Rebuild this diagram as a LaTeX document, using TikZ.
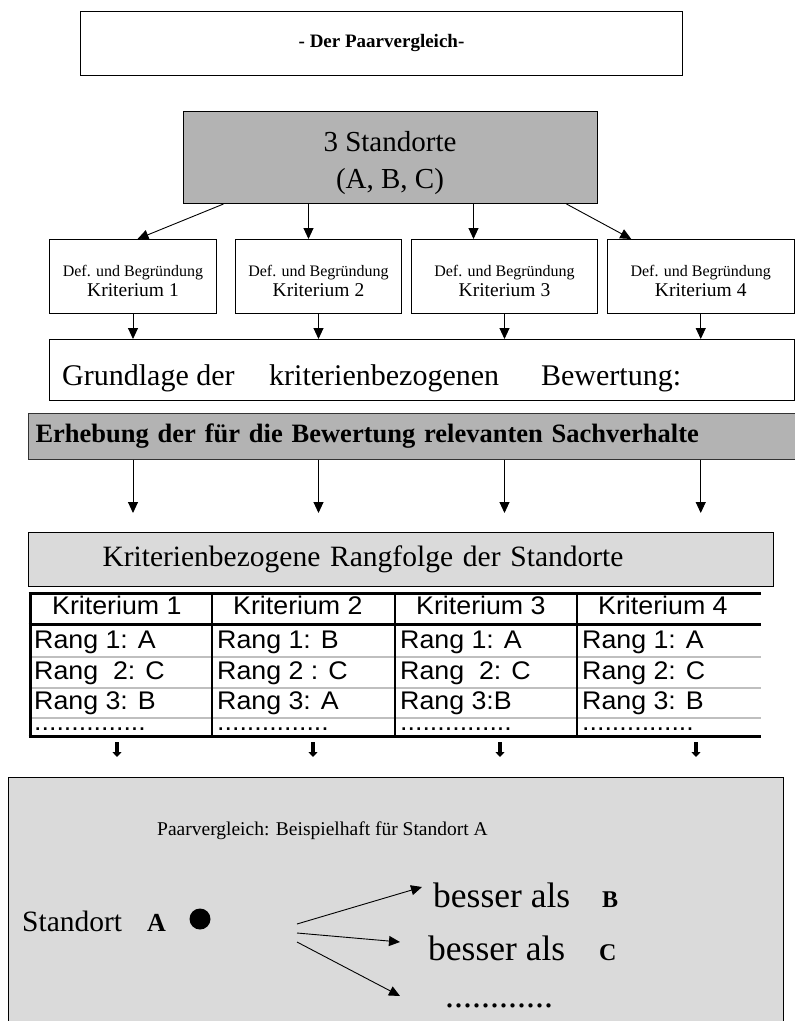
\documentclass[tikz,border=0pt]{standalone}
\usepackage{fontspec}
\setmainfont{Liberation Serif}
\newfontfamily\tabfont[FakeStretch=1.05]{Liberation Sans}
\usetikzlibrary{arrows.meta}
\definecolor{boxgray}{HTML}{B3B3B3}
\definecolor{dotgray}{HTML}{DADADA}
\definecolor{rulegray}{HTML}{BFBFBF}
\newcommand{\fsz}[1]{\fontsize{#1}{#1}\selectfont}
\newcommand{\critlabel}[1]{{\fontsize{16}{20}\selectfont Def. und Begründung}\\{\fontsize{19.5}{20}\selectfont Kriterium #1}}

\begin{document}
\begin{tikzpicture}[x=1pt,y=-1pt,
  box/.style={draw=black, line width=1pt, inner sep=0pt},
  crit/.style={box, minimum height=74pt, anchor=north west},
  crittext/.style={inner sep=0pt, align=center, font=\fontsize{16}{20}\selectfont},
  arr/.style={line width=0.9pt, -{Triangle[length=11pt,width=10pt]}},
  thickarr/.style={line width=4pt, -{Triangle[length=5pt,width=9pt]}},
  tab/.style={anchor=base west, inner sep=0pt, font=\tabfont\fsz{25.5}},
  txt/.style={anchor=base west, inner sep=0pt},
  heavy/.style={line width=3pt},
  colrule/.style={line width=2.5pt},
  graysep/.style={line width=2.5pt, draw=rulegray}]
\useasboundingbox (0,0) rectangle (795,1021);

% heading
\node[box, minimum width=602pt, minimum height=64pt, anchor=north west,
      font=\bfseries\fsz{19}] (title) at (80,11) {- Der Paarvergleich-};

% the three sites
\node[box, fill=boxgray, minimum width=414pt, minimum height=92pt, anchor=north west] (stand) at (183,111) {};
\node[inner sep=0pt, align=center, font=\fontsize{29}{37}\selectfont] (standtext) at (390,163)
      {3 Standorte\\(A, B, C)};

% criteria
\node[crit, minimum width=167pt] (k1) at (49,239) {};
\node[crit, minimum width=166pt] (k2) at (235,239) {};
\node[crit, minimum width=186pt] (k3) at (411,239) {};
\node[crit, minimum width=186.5pt] (k4) at (607,239) {};
\foreach \k/\n in {k1/1,k2/2,k3/3,k4/4}
  \node[crittext] (\k text) at ([yshift=-4pt]\k.center) {\critlabel{\n}};

\draw[arr] ([xshift=-167pt]stand.south) -- ([xshift=4.5pt]k1.north);
\draw[arr] ([xshift=-82pt]stand.south) -- ([xshift=-10pt]k2.north);
\draw[arr] ([xshift=83pt]stand.south) -- ([xshift=-31pt]k3.north);
\draw[arr] ([xshift=176pt]stand.south) -- ([xshift=-69.5pt]k4.north);

% basis of the assessment
\node[box, minimum width=744.5pt, minimum height=61pt, anchor=north west] (grund) at (49,339) {};
\node[txt, font=\fsz{30}] (grundtext) at (62,385)
  {Grundlage der\hspace{34.6pt}kriterienbezogenen\hspace{42pt}Bewertung:};

\foreach \k in {k1,k2,k3,k4}
  \draw[arr] (\k.south) -- (\k.south |- grund.north);

% survey bar
\node[draw=black!80, line width=1pt, fill=boxgray, minimum width=772pt, minimum height=45.5pt,
      anchor=north west, text width=758pt, inner xsep=7pt, inner ysep=0pt, align=left,
      font=\bfseries\fsz{26.5}] (erh) at (28,413)
  {Erhebung der für die Bewertung relevanten Sachverhalte};

\foreach \k/\n in {k1/1,k2/2,k3/3,k4/4}
  \coordinate (e\n) at (\k.south |- 0,513);
\foreach \k/\n in {k1/1,k2/2,k3/3,k4/4}
  \draw[arr] (\k.south |- erh.south) -- (e\n);

% ranking bar
\node[draw=black, line width=1pt, fill=dotgray, minimum width=745pt, minimum height=54pt,
      anchor=north west, text width=597pt, inner xsep=74pt, inner ysep=0pt, align=left,
      font=\fsz{29.5}] (krit) at (28,532)
  {Kriterienbezogene Rangfolge der Standorte};

% ranking table
\draw[graysep] (30,657) -- (761,657);
\draw[graysep] (30,688) -- (761,688);
\draw[graysep] (30,718) -- (761,718);
\draw[heavy] (28.5,593) -- (761,593);
\draw[heavy] (28.5,624) -- (761,624);
\draw[heavy] (28.5,736) -- (761,736);
\draw[heavy] (30,593) -- (30,736);
\draw[colrule] (212,593) -- (212,736);
\draw[colrule] (395,593) -- (395,736);
\draw[colrule] (577,593) -- (577,736);

\node[tab] (h1) at (52,614) {Kriterium 1};
\node[tab] (h2) at (233,614) {Kriterium 2};
\node[tab] (h3) at (416,614) {Kriterium 3};
\node[tab] (h4) at (598,614) {Kriterium 4};

\node[tab] (r11) at (34,648) {Rang 1: A};
\node[tab] (r12) at (34,679) {Rang\ \ 2: C};
\node[tab] (r13) at (34,709) {Rang 3: B};
\node[tab] (r14) at (34,730) {...............};

\node[tab] (r21) at (217,648) {Rang 1: B};
\node[tab] (r22) at (217,679) {Rang 2 : C};
\node[tab] (r23) at (217,709) {Rang 3: A};
\node[tab] (r24) at (217,730) {...............};

\node[tab] (r31) at (400,648) {Rang 1: A};
\node[tab] (r32) at (400,679) {Rang\ \ 2: C};
\node[tab] (r33) at (400,709) {Rang 3:B};
\node[tab] (r34) at (400,730) {...............};

\node[tab] (r41) at (582,648) {Rang 1: A};
\node[tab] (r42) at (582,679) {Rang 2: C};
\node[tab] (r43) at (582,709) {Rang 3: B};
\node[tab] (r44) at (582,730) {...............};

% short arrows below the table
\foreach \x/\n in {117/1,313/2,500/3,696/4} {
  \coordinate (d\n) at (\x,742);
  \coordinate (f\n) at (\x,757);
}
\foreach \n in {1,2,3,4}
  \draw[thickarr] (d\n) -- (f\n);

% pair comparison panel
\node[draw=black, line width=1pt, fill=dotgray, minimum width=775pt, minimum height=260pt,
      anchor=north west] (paar) at (8,777) {};
\node[txt, font=\fsz{19.5}] (pvtitle) at (157,835) {Paarvergleich: Beispielhaft für Standort A};
\node[txt, font=\fsz{29.5}] (standort) at (22,931) {Standort};
\node[txt, font=\bfseries\fsz{26}] (sa) at (147,931) {A};
\node[circle, fill=black, minimum size=21pt, inner sep=0pt] (dot) at (200,919) {};

\node[txt, font=\fsz{35.5}] (bb) at (433,907) {besser als};
\node[txt, font=\bfseries\fsz{24}] (lb) at (602,907) {B};
\node[txt, font=\fsz{35.5}] (bc) at (428,960) {besser als};
\node[txt, font=\bfseries\fsz{24}] (lc) at (599,960) {C};
\node[txt, font=\fsz{36}] (more) at (445,1007) {............};

\coordinate (o1) at (297,924);
\coordinate (o2) at (297,933);
\coordinate (o3) at (297,942);
\draw[arr] (o1) -- ([xshift=-11pt,yshift=20pt]bb.base west);
\draw[arr] (o2) -- ([xshift=-28pt,yshift=18pt]bc.base west);
\draw[arr] (o3) -- ([xshift=-45pt,yshift=11pt]more.base west);
\end{tikzpicture}
\end{document}
